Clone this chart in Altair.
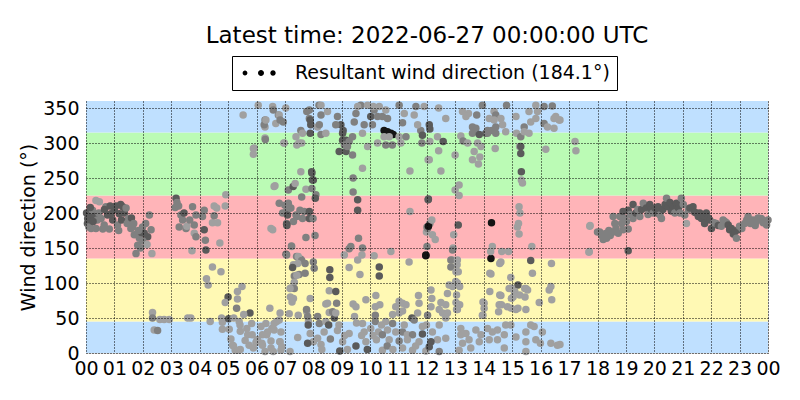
import altair as alt
import pandas as pd

TITLE = "Latest time: 2022-06-27 00:00:00 UTC"
LEGEND_LABEL = "Resultant wind direction (184.1°)"
RESULTANT = 184.1

# (hour of day, wind direction in degrees, shade level 1=light .. 4=black)
POINTS_00_06 = [
    (0.02,200,3),(0.06,192,3),(0.12,197,3),(0.05,185,3),(0.1,180,2),(0.18,178,2),(0.23,204,2),(0.3,195,3),
    (0.35,218,1),(0.35,178,2),(0.4,190,2),(0.47,216,1),(0.53,192,2),(0.59,177,2),(0.64,183,2),(0.7,209,2),
    (0.76,197,3),(0.82,177,2),(0.88,199,3),(0.94,190,3),(1.0,205,3),(1.05,210,3),(1.11,183,2),(1.15,175,2),
    (1.17,199,3),(1.22,212,3),(1.29,209,3),(1.35,200,3),(1.41,207,2),(1.5,192,2),(1.58,178,2),(1.64,180,2),
    (1.7,169,2),(1.76,142,2),(1.82,154,2),(1.88,164,2),(1.95,172,3),(1.99,180,2),(2.05,171,3),(2.1,185,2),
    (2.17,166,3),(2.23,197,2),(2.29,176,2),(2.32,142,1),(0.15,208,3),(0.25,188,3),(0.45,200,2),(0.65,205,3),
    (0.85,210,3),(1.25,190,3),(1.45,185,2),(1.6,193,3),(1.68,185,2),(1.85,175,2),(2.0,160,2),(2.15,155,1),
    (1.92,150,2),(2.34,58,1),(2.34,50,2),(2.4,33,1),(2.52,32,2),(2.6,48,1),(2.75,48,1),(2.93,48,1),
    (3.58,50,1),(3.69,50,1),(3.14,208,2),(3.17,221,3),(3.26,210,2),(3.28,180,2),(3.34,197,2),(3.4,190,2),
    (3.52,178,2),(3.55,181,1),(3.75,209,2),(3.81,183,2),(3.81,171,1),(3.87,197,2),(3.87,166,2),(3.73,146,1),
    (3.2,215,2),(3.45,200,3),(3.65,190,2),(4.1,195,2),(4.16,204,2),(4.16,176,3),(4.2,161,2),(4.22,147,3),
    (4.45,186,1),(4.51,210,1),(4.51,196,2),(4.6,207,1),(4.63,186,1),(4.71,157,1),(4.9,210,1),(4.92,226,1),
    (4.24,106,1),(4.3,97,1),(4.45,123,1),(4.75,116,1),(4.37,45,1),(4.77,50,1),(4.8,44,1),(4.8,34,1),
    (5.0,80,3),(4.9,72,1),(5.02,49,3),(5.04,34,1),(5.33,88,1),(5.49,95,1),(5.33,77,1),(5.3,64,2),
    (5.39,45,1),(5.43,31,1),(5.77,57,3),(5.83,42,1),(5.69,26,1),(5.16,11,1),(5.25,4,1),(5.43,5,1),
    (5.74,11,1),(5.98,15,1),(5.19,10,1),(5.36,4,1),(5.42,40,1),(5.53,340,1),(5.66,35,1),(5.85,26,1),
    (5.89,292,1),(5.89,284,1),(5.92,293,1),(5.89,7,1),(5.1,20,1),(5.6,18,1),(5.55,55,1),(5.2,50,1),
]

POINTS_06_12_LOW = [
    (6.65,239,1),(6.62,238,1),(6.57,176,1),(6.51,178,1),(6.8,214,2),(6.92,200,2),(7.0,211,2),(7.06,202,2),
    (7.06,185,2),(7.09,197,3),(7.12,214,2),(7.18,207,2),(7.21,207,2),(7.12,233,2),(7.29,238,3),(7.36,242,1),
    (7.56,259,1),(7.95,257,3),(7.97,247,3),(7.74,234,1),(7.95,235,2),(8.09,226,2),(8.07,221,3),(7.59,223,2),
    (7.53,204,2),(7.39,197,2),(7.42,195,2),(7.62,192,2),(7.68,202,2),(7.86,202,3),(7.86,192,3),(7.99,192,2),
    (7.3,188,2),(7.06,184,3),(7.07,182,3),(7.74,165,2),(8.06,168,2),(7.24,152,1),(7.23,153,2),(7.04,141,3),
    (7.06,140,2),(7.41,138,2),(7.56,134,2),(7.47,138,1),(7.59,132,2),(7.3,126,1),(7.71,128,2),(7.45,128,1),
    (7.27,122,3),(8.0,130,2),(8.03,121,2),(7.71,114,2),(7.5,112,2),(7.33,110,2),(7.42,111,1),(7.33,101,1),
    (7.21,93,1),(7.33,92,2),(7.18,92,1),(7.19,80,1),(7.25,73,1),(7.3,78,1),(7.15,56,1),(7.47,54,1),
    (7.77,59,1),(7.89,78,1),(7.83,45,1),(7.89,28,1),(8.0,16,1),(7.18,2,1),(6.83,16,1),(6.54,35,1),
    (6.36,26,1),(6.19,14,1),(6.02,19,1),(6.8,47,1),(6.62,42,1),(6.33,42,1),(6.16,38,1),(6.39,30,1),
    (6.62,33,1),(6.86,30,1),(6.21,26,1),(6.04,19,1),(6.51,17,1),(6.82,16,1),(6.21,11,1),(6.51,7,1),
    (6.86,4,1),(7.45,22,1),(6.71,45,1),(6.83,57,1),(6.47,64,1),(6.89,9,1),(6.59,2,1),(6.3,2,1),
    (7.8,52,2),(7.76,62,2),(7.82,40,3),(7.8,14,3),(8.15,52,2),(8.21,42,2),(8.15,21,1),(8.27,12,1),
    (8.38,30,1),(8.44,45,1),(8.44,70,1),(8.5,71,1),(8.56,58,1),(8.54,40,3),(8.56,89,1),(8.58,108,3),
    (8.58,119,3),(8.79,88,3),(8.82,71,2),(8.74,50,3),(8.68,59,2),(8.79,57,1),(8.85,32,1),(8.93,3,3),
    (9.03,16,1),(9.26,28,1),(9.4,70,1),(9.5,66,1),(9.45,52,1),(9.64,112,1),(9.26,122,1),(9.56,133,1),
    (9.59,164,2),(9.32,152,2),(9.73,150,2),(9.71,140,1),(9.09,140,1),(9.26,149,2),(9.52,43,1),(9.73,42,1),
    (9.79,30,1),(9.85,76,1),(9.85,16,1),(10.02,35,1),(10.18,66,1),(10.2,82,1),(10.34,69,1),(10.18,54,2),
    (10.18,45,2),(10.29,30,1),(10.22,19,1),(10.43,4,1),(10.32,123,3),(10.32,110,3),(10.14,139,1),(10.73,145,1),
    (11.37,130,1),(11.96,139,4),(10.55,45,1),(10.79,55,1),(10.9,66,1),(11.02,74,1),(11.14,71,1),(11.26,69,1),
    (11.7,82,1),(11.72,71,1),(11.67,57,1),(11.47,50,3),(11.55,47,2),(11.14,60,1),(11.02,57,1),(10.79,42,2),
    (10.61,33,1),(10.43,26,2),(10.9,30,1),(11.14,30,2),(11.31,26,1),(11.49,26,2),(11.84,27,3),(11.72,16,1),
    (11.31,19,1),(11.02,17,2),(10.67,19,1),(11.14,7,1),(11.49,4,1),(11.96,3,1),(11.84,38,1),(11.98,40,1),
    (8.3,5,1),(8.6,20,2),(9.2,5,1),(9.5,10,3),(9.7,25,1),(9.9,5,3),(10.1,25,1),(10.6,10,2),
    (10.8,5,1),(11.2,40,1),(11.6,10,1),(8.9,40,1),(9.1,25,1),(10.4,40,1),
]

POINTS_06_12_HIGH = [
    (6.06,354,1),(6.3,333,2),(6.3,323,1),(6.27,326,2),(6.33,333,1),(6.3,307,1),(6.31,305,2),(6.57,352,1),
    (6.59,347,2),(6.68,328,1),(6.77,340,2),(6.8,340,1),(6.83,333,2),(6.94,330,2),(6.96,300,1),(6.98,300,1),
    (7.03,350,1),(7.56,318,2),(7.62,314,1),(7.86,347,2),(7.86,335,2),(7.91,326,3),(7.39,309,1),(7.5,300,1),
    (7.77,345,2),(7.89,333,3),(7.94,259,3),(8.0,247,3),(7.42,297,1),(7.59,300,1),(7.89,314,3),(8.2,354,2),
    (8.27,312,2),(8.15,323,1),(8.21,326,2),(8.27,340,2),(8.27,354,1),(8.85,338,2),(8.97,326,3),(9.05,318,3),
    (9.15,304,3),(8.91,288,3),(9.15,288,3),(9.2,295,2),(9.38,283,2),(9.03,314,3),(9.38,309,2),(8.44,314,1),
    (8.5,345,1),(8.79,326,2),(9.03,304,3),(9.26,302,2),(9.09,297,2),(9.44,330,2),(9.5,342,2),(9.67,354,2),
    (9.73,314,1),(9.79,326,2),(9.91,295,1),(9.73,264,1),(9.4,250,2),(9.4,230,2),(9.56,219,3),(9.56,204,3),
    (10.02,338,3),(10.08,326,2),(10.14,347,2),(10.26,338,2),(10.43,338,2),(10.61,335,2),(10.55,347,1),(10.32,352,1),
    (10.49,318,4),(10.61,316,4),(10.73,314,4),(10.81,312,4),(10.67,309,1),(10.49,309,1),(10.26,300,1),(10.55,297,2),
    (10.78,297,2),(11.02,309,1),(11.26,309,2),(11.08,300,1),(11.14,329,2),(11.2,342,1),(11.02,354,2),(11.4,260,1),
    (11.4,202,1),(11.61,352,2),(11.78,318,2),(11.84,311,3),(11.9,352,1),(11.82,300,2),(11.67,326,1),(11.55,340,1),
    (10.11,352,1),(9.56,352,1),(9.91,354,1),
]

POINTS_12_18_LOW = [
    (11.98,173,1),(12.0,180,2),(12.1,185,2),(11.96,140,4),(12.0,152,2),(12.02,178,2),(12.05,181,4),(12.17,190,1),
    (12.19,169,1),(12.29,162,1),(13.1,183,3),(12.94,169,1),(12.92,150,1),(12.9,133,1),(13.06,126,1),(13.1,116,1),
    (13.01,102,1),(13.15,95,1),(13.04,83,1),(13.15,69,1),(13.04,62,1),(12.9,147,2),(12.84,133,2),(13.07,133,1),
    (12.84,123,2),(13.02,116,1),(12.78,97,1),(12.9,95,1),(13.07,100,1),(12.72,85,1),(12.14,90,1),(12.17,78,1),
    (12.14,66,1),(12.49,72,1),(12.66,69,1),(12.43,62,1),(12.55,57,1),(12.72,57,1),(12.66,50,1),(13.02,72,1),
    (13.07,62,1),(12.02,54,2),(12.43,40,1),(12.19,30,1),(12.37,19,1),(12.14,16,3),(12.08,9,3),(12.43,2,2),
    (12.66,21,1),(13.19,35,1),(13.19,26,1),(13.37,28,1),(13.48,19,1),(13.25,14,1),(13.54,7,1),(13.13,4,1),
    (13.72,33,1),(13.9,26,1),(13.84,16,1),(14.13,35,1),(14.3,30,1),(14.19,19,1),(14.48,33,1),(14.72,26,1),
    (14.72,7,1),(14.48,19,1),(14.77,40,1),(14.95,40,1),(15.13,23,1),(15.48,30,1),(15.48,16,1),(15.65,40,1),
    (15.77,38,1),(15.83,19,1),(16.06,30,1),(15.99,14,1),(16.36,14,1),(16.59,11,1),(15.48,2,1),(14.01,71,1),
    (14.01,64,1),(13.95,54,1),(14.54,69,1),(14.52,59,1),(14.6,82,1),(14.25,113,1),(14.25,135,4),(14.27,186,4),
    (14.6,130,1),(14.3,152,1),(14.63,145,1),(14.87,145,1),(14.95,108,1),(14.89,92,1),(14.83,66,1),(15.07,88,1),
    (15.2,97,3),(15.03,80,1),(15.13,62,1),(15.48,92,1),(15.54,90,1),(15.45,80,1),(15.48,62,1),(15.65,132,3),
    (15.69,152,1),(15.71,114,1),(15.95,72,1),(16.38,128,1),(16.36,95,1),(16.39,76,1),(16.3,90,1),(17.7,144,1),
    (17.73,181,1),(15.24,170,1),(15.18,180,1),(14.97,93,1),(15.09,88,1),(15.26,83,1),(15.44,92,1),(14.97,78,1),
    (15.2,64,1),(14.97,64,1),(14.62,69,1),(14.56,83,1),(14.21,88,1),(13.97,73,1),(13.97,54,1),(14.24,145,1),
    (14.56,128,1),(14.21,114,1),(15.24,209,1),(15.27,200,1),(15.22,185,1),(16.68,12,1),(17.74,182,1),(17.71,145,1),
    (19.08,146,3),
]

POINTS_12_18_HIGH = [
    (12.04,219,3),(12.05,220,3),(12.04,276,1),(12.08,276,1),(12.1,302,1),(12.08,326,3),(12.1,320,3),(12.41,350,1),
    (12.66,335,1),(12.37,309,1),(12.57,302,3),(12.41,289,1),(12.49,260,1),(12.99,283,1),(12.99,233,1),(13.13,240,1),
    (13.13,225,1),(15.32,259,3),(15.32,247,1),(15.36,243,1),(15.26,295,1),(15.3,285,3),(13.6,276,1),(13.81,270,1),
    (13.86,280,1),(13.9,295,1),(13.66,288,1),(13.25,345,1),(13.46,342,1),(13.37,338,1),(13.75,340,2),(13.19,310,1),
    (13.27,303,2),(13.43,300,1),(13.6,323,2),(13.72,321,2),(13.6,314,2),(13.84,312,3),(13.78,300,1),(14.07,314,3),
    (14.13,318,2),(14.19,335,1),(14.36,345,1),(14.42,340,2),(14.36,333,1),(14.42,314,2),(14.6,335,1),(14.66,326,1),
    (14.77,316,1),(14.8,354,2),(14.4,292,1),(13.95,354,2),(15.13,338,1),(15.15,314,1),(15.3,309,2),(15.42,323,2),
    (15.3,295,3),(15.59,345,1),(15.65,330,1),(15.83,335,1),(15.89,345,1),(15.83,354,1),(16.12,352,2),(16.41,353,2),
    (16.53,338,1),(16.65,333,1),(16.47,335,1),(16.12,328,2),(16.24,323,1),(16.47,321,1),(16.18,291,1),(17.21,302,1),
    (17.24,289,1),(15.42,316,1),(15.59,314,1),(14.42,323,2),(14.28,318,2),(14.13,314,2),(16.68,333,1),
]

POINTS_18_24 = [
    (18.0,173,2),(18.08,173,2),(18.15,168,2),(18.2,162,2),(18.25,170,2),(18.32,171,2),(18.32,164,2),(18.4,175,2),
    (18.45,168,2),(18.55,173,2),(18.61,185,2),(18.55,195,2),(18.65,178,2),(18.73,171,2),(18.79,195,2),(18.85,185,2),
    (18.9,202,3),(18.9,176,2),(18.95,192,2),(19.02,188,2),(19.08,204,3),(19.08,177,2),(19.15,198,2),(19.25,212,3),
    (19.25,192,2),(19.35,200,3),(19.42,205,2),(19.49,195,2),(19.55,205,3),(19.61,214,2),(19.72,207,3),(19.78,198,2),
    (19.84,212,3),(19.9,205,3),(19.96,200,2),(20.02,207,3),(20.1,200,3),(20.13,209,3),(20.2,197,2),(20.25,192,2),
    (20.3,205,3),(20.38,212,3),(20.43,221,2),(20.49,209,3),(20.55,215,3),(20.6,203,3),(20.66,209,3),(20.72,200,2),
    (20.78,214,3),(20.85,207,3),(20.9,200,2),(20.95,221,2),(21.02,212,2),(21.07,197,2),(21.13,185,1),(21.2,205,2),
    (21.25,207,3),(21.36,209,3),(21.42,201,3),(21.48,200,3),(21.55,195,3),(21.6,200,3),(21.66,192,3),(21.72,196,3),
    (21.77,185,3),(21.83,200,3),(21.9,193,3),(21.95,190,3),(22.01,178,3),(22.1,186,2),(22.18,185,2),(22.25,182,3),
    (22.36,181,2),(22.42,190,2),(22.48,188,2),(22.54,186,2),(22.6,183,3),(22.65,176,3),(22.71,178,3),(22.78,170,3),
    (22.83,173,3),(22.89,164,2),(22.95,176,3),(23.0,181,2),(23.08,178,2),(23.18,185,2),(23.25,190,2),(23.3,195,2),
    (23.38,185,2),(23.47,190,2),(23.55,182,2),(23.59,188,2),(23.65,193,2),(23.71,192,2),(23.77,192,2),(23.83,186,2),
    (23.89,188,2),(23.95,183,2),(24.0,190,2),
]

SHADE_LEVELS = [1, 2, 3, 4]
SHADE_COLORS = ["#a0a0a0", "#808080", "#5a5a5a", "#141414"]

BAND_LOW = [0, 45, 135, 225, 315]
BAND_HIGH = [45, 135, 225, 315, 360]
BAND_COLORS = ["#bfe0ff", "#fff9b4", "#ffb4b8", "#bbfbb5", "#bfe0ff"]

HOUR_TICKS = list(range(25))
DIR_TICKS = list(range(0, 360, 50))

FONT = "DejaVu Sans"

all_points = (POINTS_00_06 + POINTS_06_12_LOW + POINTS_06_12_HIGH +
              POINTS_12_18_LOW + POINTS_12_18_HIGH + POINTS_18_24)
pts = pd.DataFrame(all_points, columns=["hour", "direction", "shade"])

bands = pd.DataFrame({"lo": BAND_LOW, "hi": BAND_HIGH, "color": BAND_COLORS,
                      "x0": [0] * 5, "x1": [24] * 5})

legend_df = pd.DataFrame({"hour": [0.0], "direction": [RESULTANT], "series": [LEGEND_LABEL]})

x_scale = alt.Scale(domain=[0, 24], nice=False, zero=False)
y_scale = alt.Scale(domain=[0, 360], nice=False, zero=False)

x_axis = alt.Axis(values=HOUR_TICKS, title=None, grid=True, gridDash=[1, 2], gridColor="black",
                  gridOpacity=1, gridWidth=1, tickSize=0, domain=False, labelFontSize=19,
                  labelFont=FONT, labelColor="black", labelPadding=6, labelFlush=False,
                  labelOverlap=False, zindex=1,
                  labelExpr="datum.value == 24 ? '00' : (datum.value < 10 ? '0' + datum.value : '' + datum.value)")
y_axis = alt.Axis(values=DIR_TICKS, title="Wind direction (°)", grid=True, gridDash=[1, 2],
                  gridColor="black", gridOpacity=1, gridWidth=1, tickSize=0, domain=False,
                  labelFontSize=19, labelFont=FONT, labelColor="black", labelPadding=7,
                  labelOverlap=False, titleFontSize=19, titleFont=FONT, titleFontWeight="normal",
                  titleColor="black", titlePadding=4, zindex=1)

band_layer = alt.Chart(bands).mark_rect().encode(
    x=alt.X("x0:Q", scale=x_scale, axis=x_axis),
    x2="x1:Q",
    y=alt.Y("lo:Q", scale=y_scale, axis=y_axis),
    y2="hi:Q",
    fill=alt.Fill("color:N", scale=None),
)

point_layer = alt.Chart(pts).mark_circle(size=56, opacity=1).encode(
    x=alt.X("hour:Q", scale=x_scale, axis=x_axis),
    y=alt.Y("direction:Q", scale=y_scale, axis=y_axis),
    color=alt.Color("shade:O", scale=alt.Scale(domain=SHADE_LEVELS, range=SHADE_COLORS), legend=None),
)

DOTS_PATH = ("M -1.64,0 A 0.24,0.24 0 1,0 -1.16,0 A 0.24,0.24 0 1,0 -1.64,0 Z "
             "M -0.1,0 A 0.3,0.3 0 1,0 0.5,0 A 0.3,0.3 0 1,0 -0.1,0 Z "
             "M 1.13,0 A 0.27,0.27 0 1,0 1.67,0 A 0.27,0.27 0 1,0 1.13,0 Z")

legend_layer = alt.Chart(legend_df).mark_point(filled=True, opacity=0, color="black", size=400).encode(
    x=alt.X("hour:Q", scale=x_scale, axis=x_axis),
    y=alt.Y("direction:Q", scale=y_scale, axis=y_axis),
    shape=alt.Shape("series:N", scale=alt.Scale(range=[DOTS_PATH]),
                    legend=alt.Legend(orient="none", legendX=146, legendY=-45, title=None,
                                      symbolSize=400, symbolOpacity=1, symbolFillColor="black",
                                      symbolStrokeWidth=0, labelFontSize=19, labelFont=FONT,
                                      labelColor="black", labelLimit=0, labelOffset=26,
                                      symbolOffset=10, padding=7, strokeColor="black",
                                      fillColor="white", cornerRadius=0)),
)

chart = alt.layer(band_layer, point_layer, legend_layer).properties(
    width=682, height=252,
    title=alt.TitleParams(TITLE, fontSize=23, font=FONT, fontWeight="normal", color="black",
                          anchor="middle", offset=8),
    autosize=alt.AutoSizeParams(type="none"),
    padding={"left": 78, "top": 93, "right": 16, "bottom": 39},
).configure_view(stroke="black", strokeWidth=1).configure(background="white")

chart.save("out.html", embed_options={"renderer": "svg", "actions": False})
